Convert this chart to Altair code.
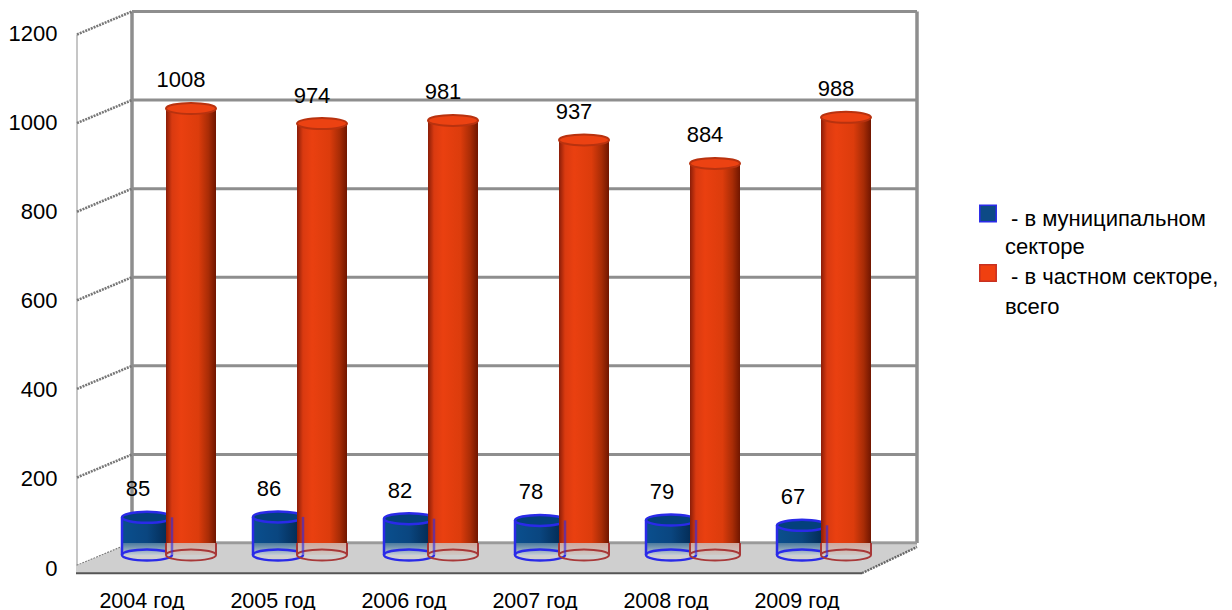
import altair as alt
import pandas as pd

years = ["2004 год", "2005 год", "2006 год", "2007 год", "2008 год", "2009 год"]
municipal = [85, 86, 82, 78, 79, 67]
private = [1008, 974, 981, 937, 884, 988]
ticks = [0, 200, 400, 600, 800, 1000, 1200]

FONT = "Liberation Sans"
FS = 22
BACK, FRONT, SLAB = 27, -25, -41      # wall depth expressed in value units
ELL = "M-1,0A1,0.22,0,1,1,1,0A1,0.22,0,1,1,-1,0Z"
W, H = 1216, 602

df = pd.DataFrame({"year": years, "m": municipal, "p": private, "base": [0] * 6, "floor": [BACK] * 6})
tk = pd.DataFrame({"t": ticks})
tk["back"] = tk.t + BACK
tk["front"] = tk.t + FRONT

y_s = alt.Scale(domain=[-124.2, 1234.8], range=[H, 0])
y_axis_s = alt.Scale(domain=[0, 1200], range=[560, 25])
x_back = alt.Scale(domain=years, range=[95.5, 881.5], paddingInner=0, paddingOuter=0)
x_front = alt.Scale(domain=years, range=[68, 854], paddingInner=0, paddingOuter=0)
x_px = alt.Scale(domain=[0, W], range=[0, W])

X = alt.X("year:N", scale=x_back, axis=None, sort=years)
GRAY = "#8e8e8e"


def Y(f):
    return alt.Y(f, type="quantitative", scale=y_s, axis=None)


def grad_h(stops):
    return alt.Gradient(gradient="linear", x1=0, x2=1, y1=0, y2=0,
                        stops=[alt.GradientStop(offset=o, color=c) for o, c in stops])


def grad_v(stops):
    return alt.Gradient(gradient="linear", x1=0, x2=0, y1=0, y2=1,
                        stops=[alt.GradientStop(offset=o, color=c) for o, c in stops])


# walls
grid = alt.Chart(tk).mark_rule(color=GRAY, strokeWidth=3).encode(
    x=alt.value(124), x2=alt.value(909), y=Y("back"))
v_edges = pd.DataFrame({"px": [124, 909], "a": [BACK, BACK], "b": [1200 + BACK] * 2})
back_v = alt.Chart(v_edges).mark_rule(color=GRAY, strokeWidth=3.5).encode(
    x=alt.X("px:Q", scale=x_px, axis=None), y=Y("a"), y2="b:Q")
front_v = alt.Chart(pd.DataFrame({"a": [FRONT], "b": [1200 + FRONT]})).mark_rule(color="#a0a0a0", strokeWidth=1.2).encode(
    x=alt.value(69), y=Y("a"), y2="b:Q")
slant = alt.Chart(tk).mark_rule(color="#777777", strokeWidth=2.6, strokeDash=[2, 1]).encode(
    x=alt.value(69), x2=alt.value(124), y=Y("front"), y2="back:Q")

# floor
floor_df = pd.DataFrame({"px": [68, 124, 854, 909], "t": [FRONT, BACK, BACK, BACK], "b": [SLAB, SLAB, SLAB, 18]})
floor = alt.Chart(floor_df).mark_area(color="#cfcfcf").encode(
    x=alt.X("px:Q", scale=x_px, axis=None), y=Y("t"), y2="b:Q")
front_edge = alt.Chart(pd.DataFrame({"a": [SLAB]})).mark_rule(color="#555555", strokeWidth=2).encode(
    x=alt.value(68), x2=alt.value(854), y=Y("a"))
right_edge = alt.Chart(pd.DataFrame({"a": [SLAB], "b": [18]})).mark_rule(color="#666666", strokeWidth=2.4, strokeDash=[2, 1]).encode(
    x=alt.value(854), x2=alt.value(909), y=Y("a"), y2="b:Q")
floor_back = alt.Chart(pd.DataFrame({"a": [BACK]})).mark_rule(color="#9a9a9a", strokeWidth=2.5).encode(
    x=alt.value(124), x2=alt.value(909), y=Y("a"))


def cylinder(field, dx, body, top_fill, top_stroke, low, line, lw):
    body_l = alt.Chart(df).mark_bar(width=50, xOffset=dx, fill=grad_h(body)).encode(x=X, y=Y(field), y2="floor:Q")
    low_l = alt.Chart(df).mark_bar(width=50, xOffset=dx, fill=grad_v(low)).encode(x=X, y=Y("floor"), y2="base:Q")
    base = alt.Chart(df).mark_point(shape=ELL, size=2500, xOffset=dx, filled=False, stroke=line, strokeWidth=lw, opacity=1).encode(x=X, y=Y("base"))
    top_l = alt.Chart(df).mark_point(shape=ELL, size=2500, xOffset=dx, filled=True, fill=top_fill, stroke=top_stroke, strokeWidth=lw, opacity=1).encode(x=X, y=Y(field))
    return [body_l, low_l, base, top_l]


blue = cylinder("m", -22,
                [(0, "#0a4f8e"), (0.5, "#0a4680"), (1, "#02264c")],
                "#03407c", "#2a2ae8",
                [(0, "#4b7a9e"), (1, "#c4ccd6")], "#2a2ae8", 2.5)
red = cylinder("p", 22,
               [(0, "#8a1d08"), (0.12, "#d93a10"), (0.3, "#ea4010"), (0.65, "#dc3c0c"), (0.85, "#a82c06"), (1, "#701600")],
               "#ec4212", "#b8320f",
               [(0, "#d0a89c"), (1, "#cfc8c4")], "#a83838", 2)


def edge(dx, f, color, w=2.0, op=1.0):
    return alt.Chart(df).mark_rule(xOffset=dx, color=color, strokeWidth=w, opacity=op).encode(x=X, y=Y(f), y2="base:Q")


blue_edges = [edge(-47, "m", "#2a2ae8", 2.5), edge(3, "m", "#2a2ae8", 2.5, 0.6)]
red_edges = [edge(-3, "floor", "#a83838"), edge(47, "floor", "#a83838")]

# value labels
lab_kw = dict(font=FONT, fontSize=FS, color="#000000", baseline="middle", dy=-28)
m_lab = alt.Chart(df).mark_text(xOffset=-31, **lab_kw).encode(x=X, y=Y("m"), text="m:Q")
p_lab = alt.Chart(df).mark_text(xOffset=12, **lab_kw).encode(x=X, y=Y("p"), text="p:Q")

# axes
ax_y = alt.Chart(tk).mark_point(opacity=0).encode(
    x=alt.value(69),
    y=alt.Y("t:Q", scale=y_axis_s, axis=alt.Axis(values=ticks, format="d", orient="left", offset=-49, domain=False, ticks=False, grid=False,
                                                  title=None, labelFont=FONT, labelFontSize=FS, labelColor="#000000", labelPadding=0,
                                                  labelFlush=False, labelOverlap=False)))
ax_x = alt.Chart(df).mark_point(opacity=0).encode(
    y=alt.value(500),
    x=alt.X("year:N", scale=x_front, sort=years, axis=alt.Axis(orient="bottom", offset=-20, domain=False, ticks=False, grid=False, title=None,
                                                               labelAngle=0, labelFont=FONT, labelFontSize=21.5, labelColor="#000000", labelPadding=0)))

# legend
leg_sq = pd.DataFrame({"name": ["- в муниципальном", "- в частном секторе,"], "px": [980, 980], "py": [205.5, 265]})
legend_items = alt.Chart(leg_sq).mark_square(size=270, opacity=1, strokeWidth=1.5).encode(
    x=alt.X("px:Q", scale=x_px, axis=None),
    y=alt.Y("py:Q", scale=alt.Scale(domain=[0, H], range=[0, H]), axis=None),
    fill=alt.Fill("name:N", scale=alt.Scale(domain=list(leg_sq.name), range=["#0d4a86", "#f04010"]), legend=None),
    stroke=alt.Stroke("name:N", scale=alt.Scale(domain=list(leg_sq.name), range=["#2a2ae8", "#c83020"]), legend=None))
leg_txt = pd.DataFrame({
    "s": ["- в муниципальном", "секторе", "- в частном секторе,", "всего"],
    "px": [1003, 997, 1003, 997],
    "py": [211, 239, 269, 299]})
legend_text = alt.Chart(leg_txt).mark_text(font=FONT, fontSize=22, align="left", baseline="middle", color="#000000").encode(
    x=alt.X("px:Q", scale=x_px, axis=None),
    y=alt.Y("py:Q", scale=alt.Scale(domain=[0, H], range=[0, H]), axis=None),
    text="s:N")

layers = [grid, back_v, front_v, slant, floor, floor_back, front_edge, right_edge]
layers += blue + blue_edges[:1] + red + red_edges + blue_edges[1:]
layers += [m_lab, p_lab, ax_y, ax_x, legend_items, legend_text]

chart = alt.layer(*layers).resolve_scale(
    x="independent", y="independent", fill="independent", stroke="independent").properties(
    width=W, height=H, padding=0, autosize=alt.AutoSizeParams(type="none"), background="#ffffff"
).configure_view(strokeWidth=0)

chart.save("out.html", embed_options={"renderer": "svg", "actions": False})
